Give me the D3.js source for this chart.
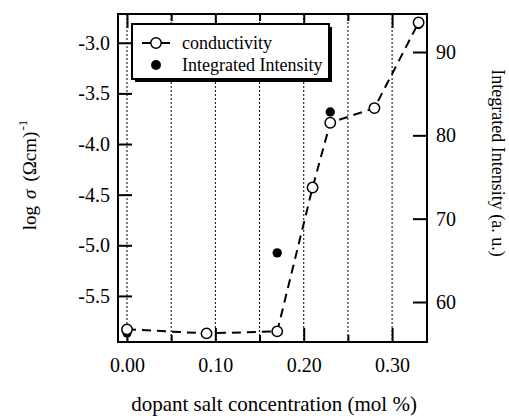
<!DOCTYPE html>
<html><head><meta charset="utf-8">
<script src="https://cdn.jsdelivr.net/npm/d3@7"></script>
<style>body{margin:0;background:#fff}svg{display:block}svg text{font-family:"Liberation Serif","Times New Roman",serif}</style>
</head><body><svg id="c" width="509" height="416"></svg>
<script>
const condX = [0.00, 0.09, 0.17, 0.21, 0.23, 0.28, 0.33];
const condY = [-5.83, -5.87, -5.85, -4.43, -3.79, -3.645, -2.80];
const intX = [0.00, 0.17, 0.23, 0.33];
const intY = [56.3, 65.9, 82.8, 93.3];
const xTicks = [0.00, 0.10, 0.20, 0.30];
const xMinor = [0.05, 0.15, 0.25];
const gridX = [0.00, 0.05, 0.10, 0.15, 0.20, 0.25, 0.30];
const leftTicks = [-3.0, -3.5, -4.0, -4.5, -5.0, -5.5];
const rightTicks = [60, 70, 80, 90];
const legendLabels = ["conductivity", "Integrated Intensity"];

const FONT = "'Liberation Serif', 'Times New Roman', serif";
const L = 118, R = 427, T = 14, B = 342;
const svg = d3.select("#c");
const x = d3.scaleLinear().domain([-0.0102, 0.3395]).range([L, R]);
const yL = d3.scaleLinear().domain([-5.955, -2.716]).range([B, T]);
const yR = d3.scaleLinear().domain([55.2, 94.56]).range([B, T]);

// grid
svg.append("g").selectAll("line").data(gridX).join("line")
  .attr("x1", d => x(d)).attr("x2", d => x(d)).attr("y1", T).attr("y2", B)
  .attr("stroke", "#000").attr("stroke-width", 1).attr("stroke-dasharray", "2,2");

const fs = 20;
const hyph = f => d => f(d).replace("\u2212", "-");
// bottom axis
const gB = svg.append("g").attr("transform", `translate(0,${B})`)
  .call(d3.axisBottom(x).tickValues(xTicks).tickFormat(hyph(d3.format(".2f"))).tickSizeInner(-14).tickSizeOuter(0).tickPadding(16));
const gBm = svg.append("g").attr("transform", `translate(0,${B})`)
  .call(d3.axisBottom(x).tickValues(xMinor).tickFormat("").tickSizeInner(-7).tickSizeOuter(0));
// top axis
const gT = svg.append("g").attr("transform", `translate(0,${T})`)
  .call(d3.axisTop(x).tickValues(xTicks).tickFormat("").tickSizeInner(-14).tickSizeOuter(0));
const gTm = svg.append("g").attr("transform", `translate(0,${T})`)
  .call(d3.axisTop(x).tickValues(xMinor).tickFormat("").tickSizeInner(-7).tickSizeOuter(0));
// left axis
const gL = svg.append("g").attr("transform", `translate(${L},0)`)
  .call(d3.axisLeft(yL).tickValues(leftTicks).tickFormat(hyph(d3.format(".1f"))).tickSizeInner(-14).tickSizeOuter(0).tickPadding(8));
// right axis
const gR = svg.append("g").attr("transform", `translate(${R},0)`)
  .call(d3.axisRight(yR).tickValues(rightTicks).tickSizeInner(-14).tickSizeOuter(0).tickPadding(9));

[gB, gBm, gT, gTm, gL, gR].forEach(g => {
  g.attr("font-family", null).attr("font-size", fs);
  g.select(".domain").remove();
  g.selectAll(".tick line").attr("stroke", "#000").attr("stroke-width", 2);
  g.selectAll(".tick text").attr("fill", "#000").style("font-family", FONT).style("font-size", fs + "px");
});

// frame
svg.append("rect").attr("x", L).attr("y", T).attr("width", R - L).attr("height", B - T)
  .attr("fill", "none").attr("stroke", "#000").attr("stroke-width", 2);

// conductivity line
const cData = condX.map((v, i) => [v, condY[i]]);
svg.append("path").datum(cData)
  .attr("d", d3.line().x(d => x(d[0])).y(d => yL(d[1])))
  .attr("fill", "none").attr("stroke", "#000").attr("stroke-width", 2).attr("stroke-dasharray", "9,6");

// intensity markers
const iData = intX.map((v, i) => [v, intY[i]]);
svg.append("g").selectAll("circle").data(iData).join("circle")
  .attr("cx", d => x(d[0])).attr("cy", d => yR(d[1])).attr("r", 4.7).attr("fill", "#000");

// conductivity markers
svg.append("g").selectAll("circle").data(cData).join("circle")
  .attr("cx", d => x(d[0])).attr("cy", d => yL(d[1])).attr("r", 5.2)
  .attr("fill", "#fff").attr("stroke", "#000").attr("stroke-width", 1.5);

// legend
const lg = svg.append("g");
lg.append("rect").attr("x", 135).attr("y", 27).attr("width", 197).attr("height", 55).attr("fill", "#000");
lg.append("rect").attr("x", 132).attr("y", 24).attr("width", 197).attr("height", 55)
  .attr("fill", "#fff").attr("stroke", "#000").attr("stroke-width", 2);
lg.append("line").attr("x1", 142).attr("x2", 170).attr("y1", 43).attr("y2", 43).attr("stroke", "#000").attr("stroke-width", 2);
lg.append("circle").attr("cx", 156).attr("cy", 43).attr("r", 5.2).attr("fill", "#fff").attr("stroke", "#000").attr("stroke-width", 1.5);
lg.append("circle").attr("cx", 156).attr("cy", 65).attr("r", 5).attr("fill", "#000");
lg.selectAll("text").data(legendLabels).join("text")
  .attr("x", 182).attr("y", (d, i) => 43 + i * 22).attr("dy", "0.35em")
  .attr("font-size", 18).text(d => d);

// axis titles
svg.append("text").attr("x", 274).attr("y", 411).attr("text-anchor", "middle").attr("font-size", 21)
  .text("dopant salt concentration (mol %)");
const lt = svg.append("text").attr("transform", "translate(36,175) rotate(-90)").attr("text-anchor", "middle")
  .attr("font-size", 19);
lt.append("tspan").text("log");
lt.append("tspan").attr("dx", 7).attr("font-style", "italic").text("σ");
lt.append("tspan").attr("dx", 8).text("(Ωcm)");
lt.append("tspan").attr("font-size", 13).attr("dy", -9).attr("dx", 1).text("-1");
svg.append("text").attr("transform", "translate(492,163) rotate(90)").attr("text-anchor", "middle").attr("font-size", 18)
  .text("Integrated Intensity (a. u.)");
</script></body></html>
